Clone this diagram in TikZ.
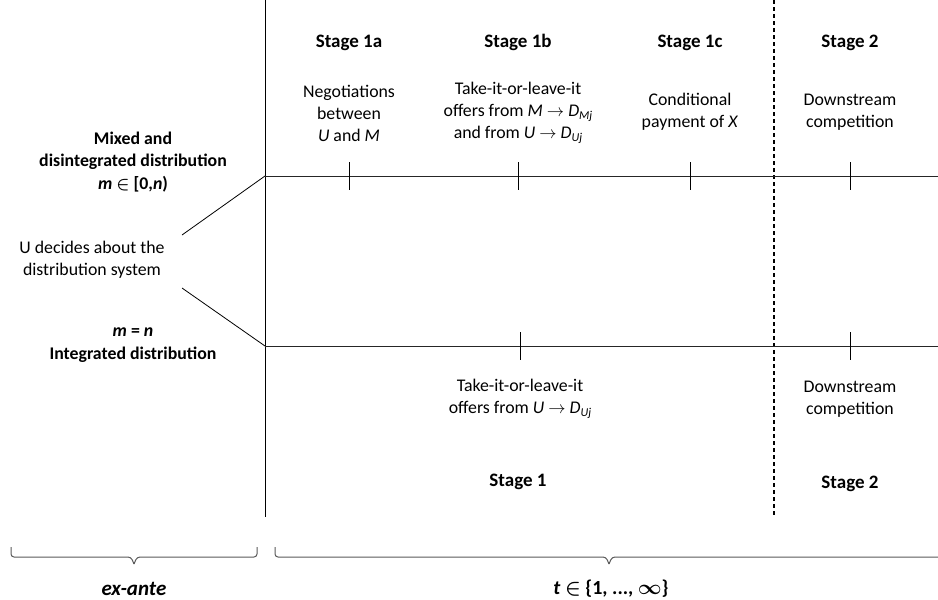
\documentclass[tikz,border=0pt]{standalone}
\usepackage{fontspec}
\setmainfont{Carlito}
\newcommand{\sbx}[1]{\raisebox{-3.5pt}{\fontsize{12}{12}\selectfont\textit{#1}}}
\tikzset{
  txt/.style={align=center, font=\fontsize{17.8}{22}\selectfont, inner sep=0pt},
  hd/.style={align=center, font=\fontsize{19}{22}\selectfont\bfseries, inner sep=0pt, anchor=base},
  lbl/.style={align=center, font=\fontsize{17.8}{22.5}\selectfont\bfseries, inner sep=0pt},
  tl/.style={line width=0.9pt, draw=black!85},
  tick/.style={line width=0.8pt},
  brc/.style={line width=1pt, draw=black!65, rounded corners=3pt}
}
\begin{document}
\begin{tikzpicture}[x=1pt,y=-1pt]
\useasboundingbox (0,0) rectangle (938,600);
\clip (0,0) rectangle (938,600);
% main verticals
\coordinate (vtop) at (265,0);
\coordinate (vbot) at (265,517);
\coordinate (dtop) at (774,0);
\coordinate (dbot) at (774,517);
\draw[line width=1pt] (vtop) -- (vbot);
\draw[line width=1.6pt, dash pattern=on 4pt off 3pt] (dtop) -- (dbot);
% timelines
\coordinate (uA) at (265,176);
\coordinate (uB) at (938,176);
\coordinate (lA) at (265,346);
\coordinate (lB) at (938,346);
\draw[tl] (uA) -- (uB);
\draw[tl] (lA) -- (lB);
% ticks
\foreach \x in {349,518,690,850} \draw[tick] (\x,162) -- (\x,190);
\foreach \x in {520,850} \draw[tick] (\x,332) -- (\x,360);
% decision
\node[txt] (dec) at (92,260) {U decides about the\\distribution system};
\coordinate (d1) at (182,235);
\coordinate (d2) at (182,288);
\draw[line width=0.8pt] (d1) -- (uA);
\draw[line width=0.8pt] (d2) -- (lA);
% left labels
\node[lbl] (mixed) at (133,162) {Mixed and\\disintegrated distribution\\\textit{m} {\boldmath$\in$} [0,\textit{n})};
\node[lbl] (integ) at (133,345) {\textit{m} = \textit{n}\\Integrated distribution};
% stage headers
\node[hd] (s1a) at (349,47) {Stage 1a};
\node[hd] (s1b) at (518,47) {Stage 1b};
\node[hd] (s1c) at (690,47) {Stage 1c};
\node[hd] (s2t) at (850,47) {Stage 2};
% upper texts
\node[txt] (neg) at (349,113) {Negotiations\\between\\\textit{U} and \textit{M}};
\node[txt] (tioli1) at (518,113) {Take-it-or-leave-it\\offers from \textit{M} $\rightarrow$ \textit{D}\sbx{Mj}\\and from \textit{U} $\rightarrow$ \textit{D}\sbx{Uj}};
\node[txt] (cond) at (690,112) {Conditional\\payment of \textit{X}};
\node[txt] (down1) at (850,112) {Downstream\\competition};
% lower texts
\node[txt] (tioli2) at (520,399) {Take-it-or-leave-it\\offers from \textit{U} $\rightarrow$ \textit{D}\sbx{Uj}};
\node[txt] (down2) at (850,399) {Downstream\\competition};
\node[hd] (s1) at (518,486) {Stage 1};
\node[hd] (s2b) at (850,488) {Stage 2};
% braces
\coordinate (b1a) at (11,547);
\coordinate (b1m) at (134,564);
\coordinate (b1b) at (257,547);
\coordinate (b2a) at (275,547);
\coordinate (b2m) at (609,564);
\coordinate (b2b) at (943,547);
\draw[brc] (b1a) -- (11,557) -- (131,557) -- (b1m);
\draw[brc] (b1m) -- (137,557) -- (257,557) -- (b1b);
\draw[brc] (b2a) -- (275,557) -- (606,557) -- (b2m);
\draw[brc] (b2m) -- (612,557) -- (943,557) -- (b2b);
\node[lbl, font=\fontsize{21}{24}\selectfont\bfseries\itshape] (exante) at (134,589) {ex-ante};
\node[lbl, font=\fontsize{20}{24}\selectfont\bfseries] (tset) at (611,589) {\textit{t} {\boldmath$\in$} \{1, ..., {\boldmath$\infty$}\}};
\end{tikzpicture}
\end{document}
